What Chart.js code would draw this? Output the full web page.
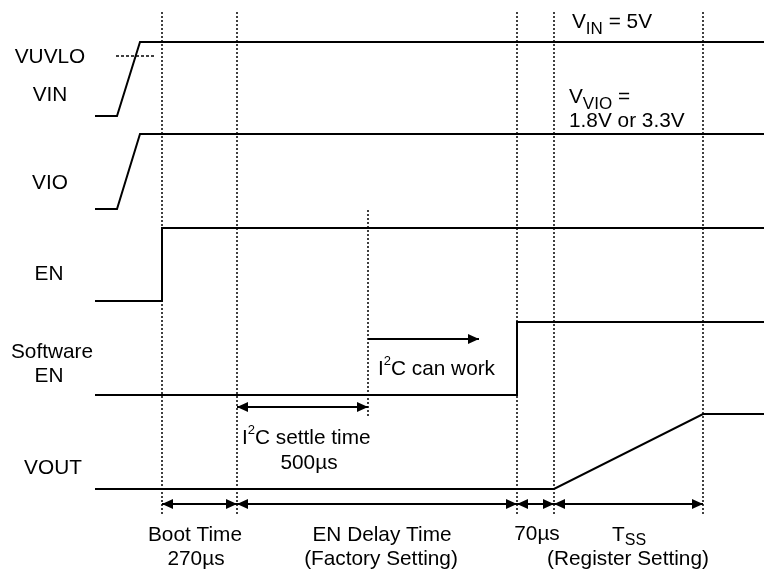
<!DOCTYPE html>
<html>
<head>
<meta charset="utf-8">
<script src="https://cdn.jsdelivr.net/npm/chart.js@4"></script>
<style>
  html, body { margin: 0; padding: 0; background: #fff; }
  #wrap { width: 764px; height: 573px; }
</style>
</head>
<body>
<div id="wrap"><canvas id="timing" width="764" height="573"></canvas></div>
<script>
// time positions (diagram units along the x axis)
const tStart = 95;
const tRampStart = 117;
const tRampEnd = 140;
const tBoot = 162;
const tSettle = 237;
const tI2cReady = 368;
const tSwEn = 517;
const tSoftStart = 554;
const tSsEnd = 703;
const tEnd = 764;

// signal waveforms (x = time, y = level in diagram units, top = 0)
const vinX = [tStart, tRampStart, tRampEnd, tEnd];
const vinY = [116, 116, 42, 42];
const vioX = [tStart, tRampStart, tRampEnd, tEnd];
const vioY = [209, 209, 134, 134];
const enX = [tStart, tBoot, tBoot, tEnd];
const enY = [301, 301, 228, 228];
const swEnX = [tStart, tSwEn, tSwEn, tEnd];
const swEnY = [395, 395, 322, 322];
const voutX = [tStart, tSoftStart, tSsEnd, tEnd];
const voutY = [489, 489, 414, 414];
const uvloX = [116, 154];
const uvloLevel = 56;

// dashed time markers
const markerTimes = [tBoot, tSettle, tSwEn, tSoftStart, tSsEnd];
const markerTop = 12;
const markerBottom = 515;
const i2cMarkerTop = 210;
const i2cMarkerBottom = 418;

// dimension arrows
const spanStarts = [tBoot, tSettle, tSwEn, tSoftStart];
const spanEnds = [tSettle, tSwEn, tSoftStart, tSsEnd];
const spanLevel = 504;
const settleLevel = 407;
const canWorkLevel = 339;
const canWorkEnd = 479;

function pts(xs, ys) {
    return xs.map((x, i) => ({ x: x, y: ys[i] }));
}

function lineSet(data, width, dash) {
    return {
        data: data,
        showLine: true,
        borderColor: "#000",
        borderWidth: width,
        borderDash: dash || [],
        pointRadius: 0,
        fill: false,
        tension: 0
    };
}

const datasets = [
    lineSet(pts(vinX, vinY), 2),
    lineSet(pts(vioX, vioY), 2),
    lineSet(pts(enX, enY), 2),
    lineSet(pts(swEnX, swEnY), 2),
    lineSet(pts(voutX, voutY), 2),
    lineSet(pts(uvloX, [uvloLevel, uvloLevel]), 1.5, [3, 2])
];

markerTimes.forEach(t => {
    datasets.push(lineSet(pts([t, t], [markerTop, markerBottom]), 1.5, [2, 2]));
});
datasets.push(lineSet(pts([tI2cReady, tI2cReady], [i2cMarkerTop, i2cMarkerBottom]), 1.5, [2, 2]));

spanStarts.forEach((s, i) => {
    datasets.push(lineSet(pts([s, spanEnds[i]], [spanLevel, spanLevel]), 2));
});
datasets.push(lineSet(pts([tSettle, tI2cReady], [settleLevel, settleLevel]), 2));
datasets.push(lineSet(pts([tI2cReady, canWorkEnd], [canWorkLevel, canWorkLevel]), 2));

// arrow heads: [tip time, level, direction]
const heads = [];
spanStarts.forEach((s, i) => {
    heads.push([s, spanLevel, -1]);
    heads.push([spanEnds[i], spanLevel, 1]);
});
heads.push([tSettle, settleLevel, -1]);
heads.push([tI2cReady, settleLevel, 1]);
heads.push([canWorkEnd, canWorkLevel, 1]);

// text labels: parts [text, mode] mode 0 normal, 1 subscript, 2 superscript, 3 small subscript
const labels = [
    { x: 50, y: 55, align: "center", parts: [["VUVLO", 0]] },
    { x: 50, y: 93, align: "center", parts: [["VIN", 0]] },
    { x: 50, y: 181, align: "center", parts: [["VIO", 0]] },
    { x: 49, y: 272, align: "center", parts: [["EN", 0]] },
    { x: 52, y: 350, align: "center", parts: [["Software", 0]] },
    { x: 49, y: 374, align: "center", parts: [["EN", 0]] },
    { x: 53, y: 466, align: "center", parts: [["VOUT", 0]] },
    { x: 572, y: 20, align: "left", parts: [["V", 0], ["IN", 1], [" = 5V", 0]] },
    { x: 569, y: 95, align: "left", parts: [["V", 0], ["VIO", 1], [" =", 0]] },
    { x: 569, y: 119, align: "left", parts: [["1.8V or 3.3V", 0]] },
    { x: 378, y: 367, align: "left", parts: [["I", 0], ["2", 2], ["C can work", 0]] },
    { x: 242, y: 436, align: "left", parts: [["I", 0], ["2", 2], ["C settle time", 0]] },
    { x: 309, y: 461, align: "center", parts: [["500µs", 0]] },
    { x: 195, y: 533, align: "center", parts: [["Boot Time", 0]] },
    { x: 196, y: 557, align: "center", parts: [["270µs", 0]] },
    { x: 382, y: 533, align: "center", parts: [["EN Delay Time", 0]] },
    { x: 381, y: 557, align: "center", parts: [["(Factory Setting)", 0]] },
    { x: 537, y: 532, align: "center", parts: [["70µs", 0]] },
    { x: 612, y: 533, align: "left", parts: [["T", 0], ["SS", 3]] },
    { x: 628, y: 557, align: "center", parts: [["(Register Setting)", 0]] }
];

const FONT = "'Liberation Sans', Arial, sans-serif";
const fontSizes = [20.8, 17, 13, 16];
const fontShift = [0, 6, -10, 4];

const annotations = {
    id: "annotations",
    afterDatasetsDraw(chart) {
        const ctx = chart.ctx;
        const xs = chart.scales.x;
        const ys = chart.scales.y;
        ctx.save();
        ctx.fillStyle = "#000";

        heads.forEach(h => {
            const px = xs.getPixelForValue(h[0]);
            const py = ys.getPixelForValue(h[1]);
            const d = h[2];
            ctx.beginPath();
            ctx.moveTo(px, py);
            ctx.lineTo(px - d * 11, py - 5);
            ctx.lineTo(px - d * 11, py + 5);
            ctx.closePath();
            ctx.fill();
        });

        ctx.textBaseline = "alphabetic";
        ctx.textAlign = "left";
        labels.forEach(l => {
            let total = 0;
            l.parts.forEach(p => {
                ctx.font = fontSizes[p[1]] + "px " + FONT;
                total += ctx.measureText(p[0]).width;
            });
            let px = xs.getPixelForValue(l.x);
            if (l.align === "center") px -= total / 2;
            const base = ys.getPixelForValue(l.y) + 7.5;
            l.parts.forEach(p => {
                ctx.font = fontSizes[p[1]] + "px " + FONT;
                ctx.fillText(p[0], px, base + fontShift[p[1]]);
                px += ctx.measureText(p[0]).width;
            });
        });
        ctx.restore();
    }
};

new Chart(document.getElementById("timing"), {
    type: "scatter",
    data: { datasets: datasets },
    options: {
        responsive: false,
        animation: false,
        layout: { padding: 0 },
        plugins: {
            legend: { display: false },
            tooltip: { enabled: false }
        },
        scales: {
            x: { type: "linear", min: 0, max: 764, display: false },
            y: { type: "linear", min: 0, max: 573, reverse: true, display: false }
        }
    },
    plugins: [annotations]
});
</script>
</body>
</html>
